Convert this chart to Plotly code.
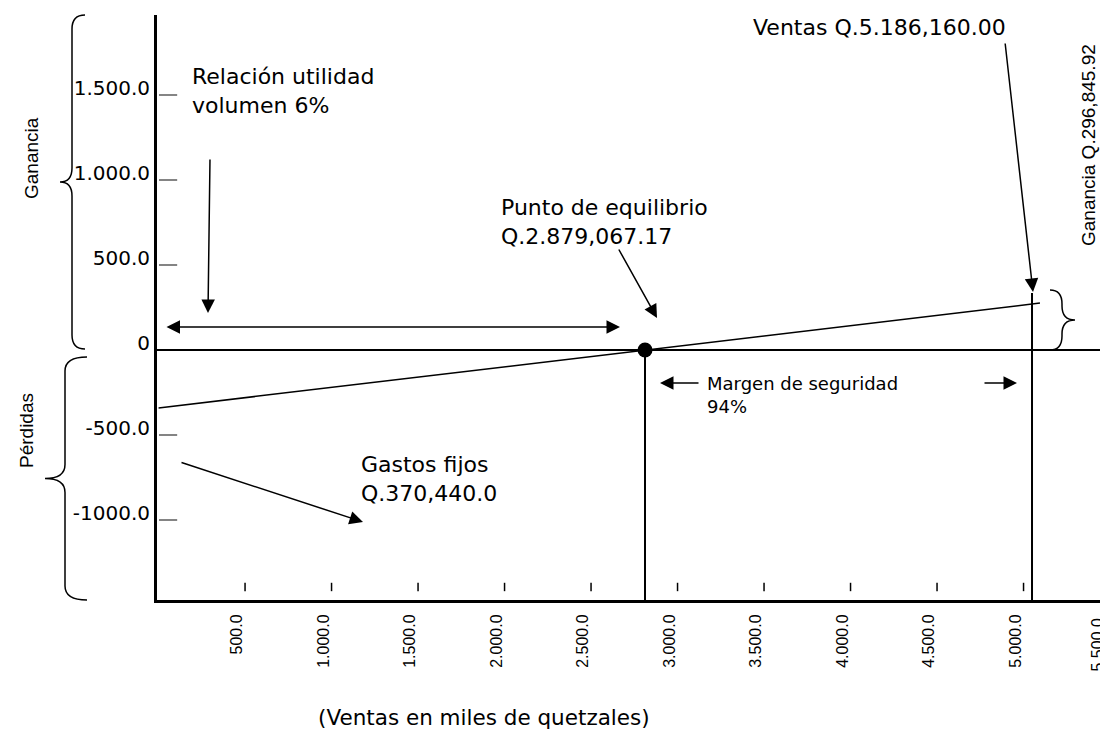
import plotly.graph_objects as go

# ---------------- data ----------------
x_tick_vals = [500, 1000, 1500, 2000, 2500, 3000, 3500, 4000, 4500, 5000, 5500]
x_tick_text = ["500.0", "1.000.0", "1.500.0", "2.000.0", "2.500.0", "3.000.0",
               "3.500.0", "4.000.0", "4.500.0", "5.000.0", "5.500.0"]
y_tick_vals = [1500, 1000, 500, 0, -500, -1000]
y_tick_text = ["1.500.0", "1.000.0", "500.0", "0", "-500.0", "-1000.0"]
y_dash_vals = [1500, 1000, 500, -500, -1000]

profit_x = [0, 5095]          # ventas (miles)
profit_y = [-341, 276]        # ganancia / pérdida (miles)
breakeven_x = [2812]
breakeven_y = [0]
sales_x = [5049]
sales_top = [335]

X_RANGE = [-9, 5442]
Y_RANGE = [-1470.6, 1970.6]

# ---------------- layout helpers ----------------
W, H = 1100, 733
PL, PR, PT, PB = 157, 1100, 15, 600   # plot area in page pixels


def px(x):
    return (x - PL) / (PR - PL)


def py(y):
    return (PB - y) / (PB - PT)


def brace(x_end, x_mid, x_tip, y_top, y_bot, r=14):
    y_mid = (y_top + y_bot) / 2
    pts = [
        f"M{px(x_end)},{py(y_top)}",
        f"Q{px(x_mid)},{py(y_top)} {px(x_mid)},{py(y_top + r)}",
        f"L{px(x_mid)},{py(y_mid - r)}",
        f"Q{px(x_mid)},{py(y_mid)} {px(x_tip)},{py(y_mid)}",
        f"Q{px(x_mid)},{py(y_mid)} {px(x_mid)},{py(y_mid + r)}",
        f"L{px(x_mid)},{py(y_bot - r)}",
        f"Q{px(x_mid)},{py(y_bot)} {px(x_end)},{py(y_bot)}",
    ]
    return dict(type="path", xref="paper", yref="paper", path=" ".join(pts),
                line=dict(color="black", width=1.5))


BLACK = "black"
FONT = "DejaVu Sans"

fig = go.Figure()

# profit/loss line
fig.add_trace(go.Scatter(x=profit_x, y=profit_y, mode="lines",
                         line=dict(color=BLACK, width=1.5), hoverinfo="skip"))
# break-even vertical
fig.add_trace(go.Scatter(x=breakeven_x * 2, y=[breakeven_y[0], Y_RANGE[0]], mode="lines",
                         line=dict(color=BLACK, width=2), hoverinfo="skip"))
# sales vertical
fig.add_trace(go.Scatter(x=sales_x * 2, y=[sales_top[0], Y_RANGE[0]], mode="lines",
                         line=dict(color=BLACK, width=2), hoverinfo="skip"))
# break-even dot
fig.add_trace(go.Scatter(x=breakeven_x, y=breakeven_y, mode="markers",
                         marker=dict(color=BLACK, size=15), hoverinfo="skip", cliponaxis=False))
# y tick dashes
fig.add_trace(go.Scatter(x=[55] * len(y_dash_vals), y=y_dash_vals, mode="markers",
                         marker=dict(symbol="line-ew", size=13,
                                     line=dict(color="#333", width=1.2)),
                         hoverinfo="skip"))
# x tick marks
fig.add_trace(go.Scatter(x=x_tick_vals[:-1], y=[-1394] * (len(x_tick_vals) - 1), mode="markers",
                         marker=dict(symbol="line-ns", size=6,
                                     line=dict(color=BLACK, width=1.5)),
                         hoverinfo="skip"))

annotations = []


def text(x, y, t, size, xanchor="left", angle=0, family=FONT, yanchor="middle"):
    annotations.append(dict(x=px(x), y=py(y), xref="paper", yref="paper", text=t,
                            showarrow=False, xanchor=xanchor, yanchor=yanchor,
                            align="left", textangle=angle,
                            font=dict(family=family, size=size, color=BLACK)))


def arrow(tip, tail, both=False):
    a = dict(x=px(tip[0]), y=py(tip[1]), xref="paper", yref="paper", text="",
             showarrow=True, ax=tail[0] - tip[0], ay=tail[1] - tip[1],
             arrowhead=2, arrowsize=1.8, arrowwidth=1.5, arrowcolor=BLACK)
    if both:
        a.update(arrowside="end+start", startarrowhead=2, startarrowsize=1.8)
    annotations.append(a)


text(190, 91, "Relación utilidad<br>volumen 6%", 22)
text(499, 222, "Punto de equilibrio<br>Q.2.879,067.17", 22)
text(751, 27, "Ventas Q.5.186,160.00", 22)
text(359, 479, "Gastos fijos<br>Q.370,440.0", 22)
text(705, 395, "Margen de seguridad<br>94%", 18)
text(484, 717, "(Ventas en miles de quetzales)", 21.5, xanchor="center")
text(31, 158, "Ganancia", 19, xanchor="center", angle=-90, family="Liberation Sans")
text(26, 431, "Pérdidas", 19, xanchor="center", angle=-90, family="Liberation Sans")
text(1088, 145, "Ganancia Q.296,845.92", 19, xanchor="center", angle=-90,
     family="Liberation Sans")
# last x tick label sits just past the axis range, at the page edge
text(1097, 617, x_tick_text[-1], 16, xanchor="center", angle=-90,
     family="Liberation Sans", yanchor="top")

arrow((208, 313), (210, 158))
arrow((620, 327), (165, 327), both=True)
arrow((657, 318), (618, 248))
arrow((1033, 292), (1005, 42))
arrow((363, 522), (180, 462))
arrow((660, 383), (700, 383))
arrow((1017, 383), (983, 383))

shapes = [
    brace(85, 72, 60, 15, 349),
    brace(87, 65, 45, 357, 600),
    brace(1050, 1062, 1075, 290, 350),
]

fig.update_layout(
    width=W, height=H,
    margin=dict(l=PL, r=W - PR, t=PT, b=H - PB, pad=0),
    paper_bgcolor="white", plot_bgcolor="white",
    showlegend=False,
    annotations=annotations,
    shapes=shapes,
    xaxis=dict(range=X_RANGE, showgrid=False, zeroline=False, showline=True,
               linewidth=3, linecolor=BLACK, ticks="", tickangle=-90,
               tickvals=x_tick_vals, ticktext=x_tick_text,
               tickfont=dict(family="Liberation Sans", size=16, color=BLACK),
               ticklabelstandoff=5, ticklabelshift=-8, automargin=False,
               fixedrange=True),
    yaxis=dict(range=Y_RANGE, showgrid=False, zeroline=True, zerolinecolor=BLACK,
               zerolinewidth=2, showline=True, linewidth=3, linecolor=BLACK,
               ticks="", tickvals=y_tick_vals, ticktext=y_tick_text,
               tickfont=dict(family=FONT, size=20, color=BLACK),
               ticklabelshift=-7, automargin=False, fixedrange=True),
)

# place the figure flush with the page corner (no default body margin / scrollbars)
fig.write_html(
    "out.html",
    config={"displayModeBar": False},
    post_script="document.body.style.margin='0';document.body.style.overflow='hidden';",
)
